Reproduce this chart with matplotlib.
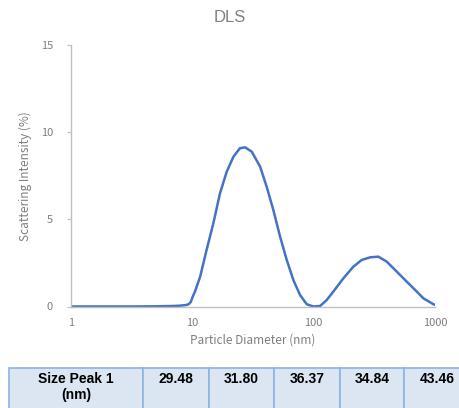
import matplotlib
matplotlib.use("Agg")
import matplotlib.pyplot as plt
from matplotlib.patches import Rectangle

plt.rcParams['font.family'] = ['Noto Sans CJK JP', 'DejaVu Sans']

# particle diameter (nm) and scattering intensity (%)
diameter = [1, 2, 3, 5, 7, 8, 8.8, 9.27, 9.7, 10.07, 10.5, 11.6, 13.1, 14.9, 16.9,
            19.2, 21.8, 24.7, 27.2, 30.9, 36.2, 41.0, 46.5, 52.9, 60.0, 68.0,
            77.2, 87.7, 99.5, 113, 128, 145, 176, 212, 249, 292, 341, 401, 484,
            586, 686, 802, 970, 1000]
intensity = [0, 0, 0, 0.01, 0.03, 0.05, 0.08, 0.12, 0.25, 0.56, 0.85, 1.71, 3.24,
             4.77, 6.49, 7.73, 8.59, 9.08, 9.13, 8.88, 8.02, 6.87, 5.54, 4.0, 2.67,
             1.52, 0.66, 0.13, 0.0, 0.03, 0.37, 0.85, 1.62, 2.28, 2.67, 2.82, 2.86,
             2.57, 2.0, 1.42, 0.95, 0.47, 0.13, 0.1]

x_ticks = [1, 10, 100, 1000]
y_ticks = [0, 5, 10, 15]

table_header = "Size Peak 1\n(nm)"
peak_sizes = ["29.48", "31.80", "36.37", "34.84", "43.46"]

W, H = 459, 408
fig = plt.figure(figsize=(W / 100, H / 100), dpi=100)
ax = fig.add_axes([71 / W, 1 - 306.5 / H, (435 - 71) / W, (306.5 - 45) / H])

ax.plot(diameter, intensity, color="#4472C4", lw=1.8, solid_joinstyle="round")
ax.set_xscale("log")
ax.set_xlim(1, 1000)
ax.set_ylim(0, 15)
ax.set_xticks(x_ticks)
ax.set_xticklabels([str(t) for t in x_ticks])
ax.minorticks_off()
ax.set_yticks(y_ticks)

grey = "#7f7f7f"
for s in ["top", "right"]:
    ax.spines[s].set_visible(False)
for s in ["left", "bottom"]:
    ax.spines[s].set_color("#bfbfbf")
    ax.spines[s].set_linewidth(1.0)
ax.tick_params(axis="x", length=0, pad=8, labelsize=8, labelcolor=grey)
ax.tick_params(axis="y", length=3, color="#bfbfbf", pad=10, labelsize=8, labelcolor=grey)

ax.set_xlabel("Particle Diameter (nm)", fontsize=8.5, color=grey, labelpad=4)
ax.set_ylabel("Scattering Intensity (%)", fontsize=8.5, color=grey, labelpad=6)
fig.text(0.5, 1 - 18 / H, "DLS", ha="center", va="center", fontsize=12,
         color="#808080", family=["Liberation Sans", "DejaVu Sans"])

# table under the chart
edges = [9, 143, 209, 274, 340, 404, 470]
top, bottom = 368, 420
cells = [table_header] + peak_sizes
for i, txt in enumerate(cells):
    x0, x1 = edges[i], edges[i + 1]
    fig.patches.append(Rectangle((x0 / W, 1 - bottom / H), (x1 - x0) / W, (bottom - top) / H,
                                 transform=fig.transFigure, facecolor="#dce6f2",
                                 edgecolor="#8db3e2", lw=1.2, clip_on=False))
    fig.text((x0 + x1) / 2 / W, 1 - 372 / H, txt, ha="center", va="top",
             fontsize=10, fontweight="bold", color="black", linespacing=1.15,
             family=["Liberation Sans", "DejaVu Sans"])

fig.savefig("out.png", dpi=100)
